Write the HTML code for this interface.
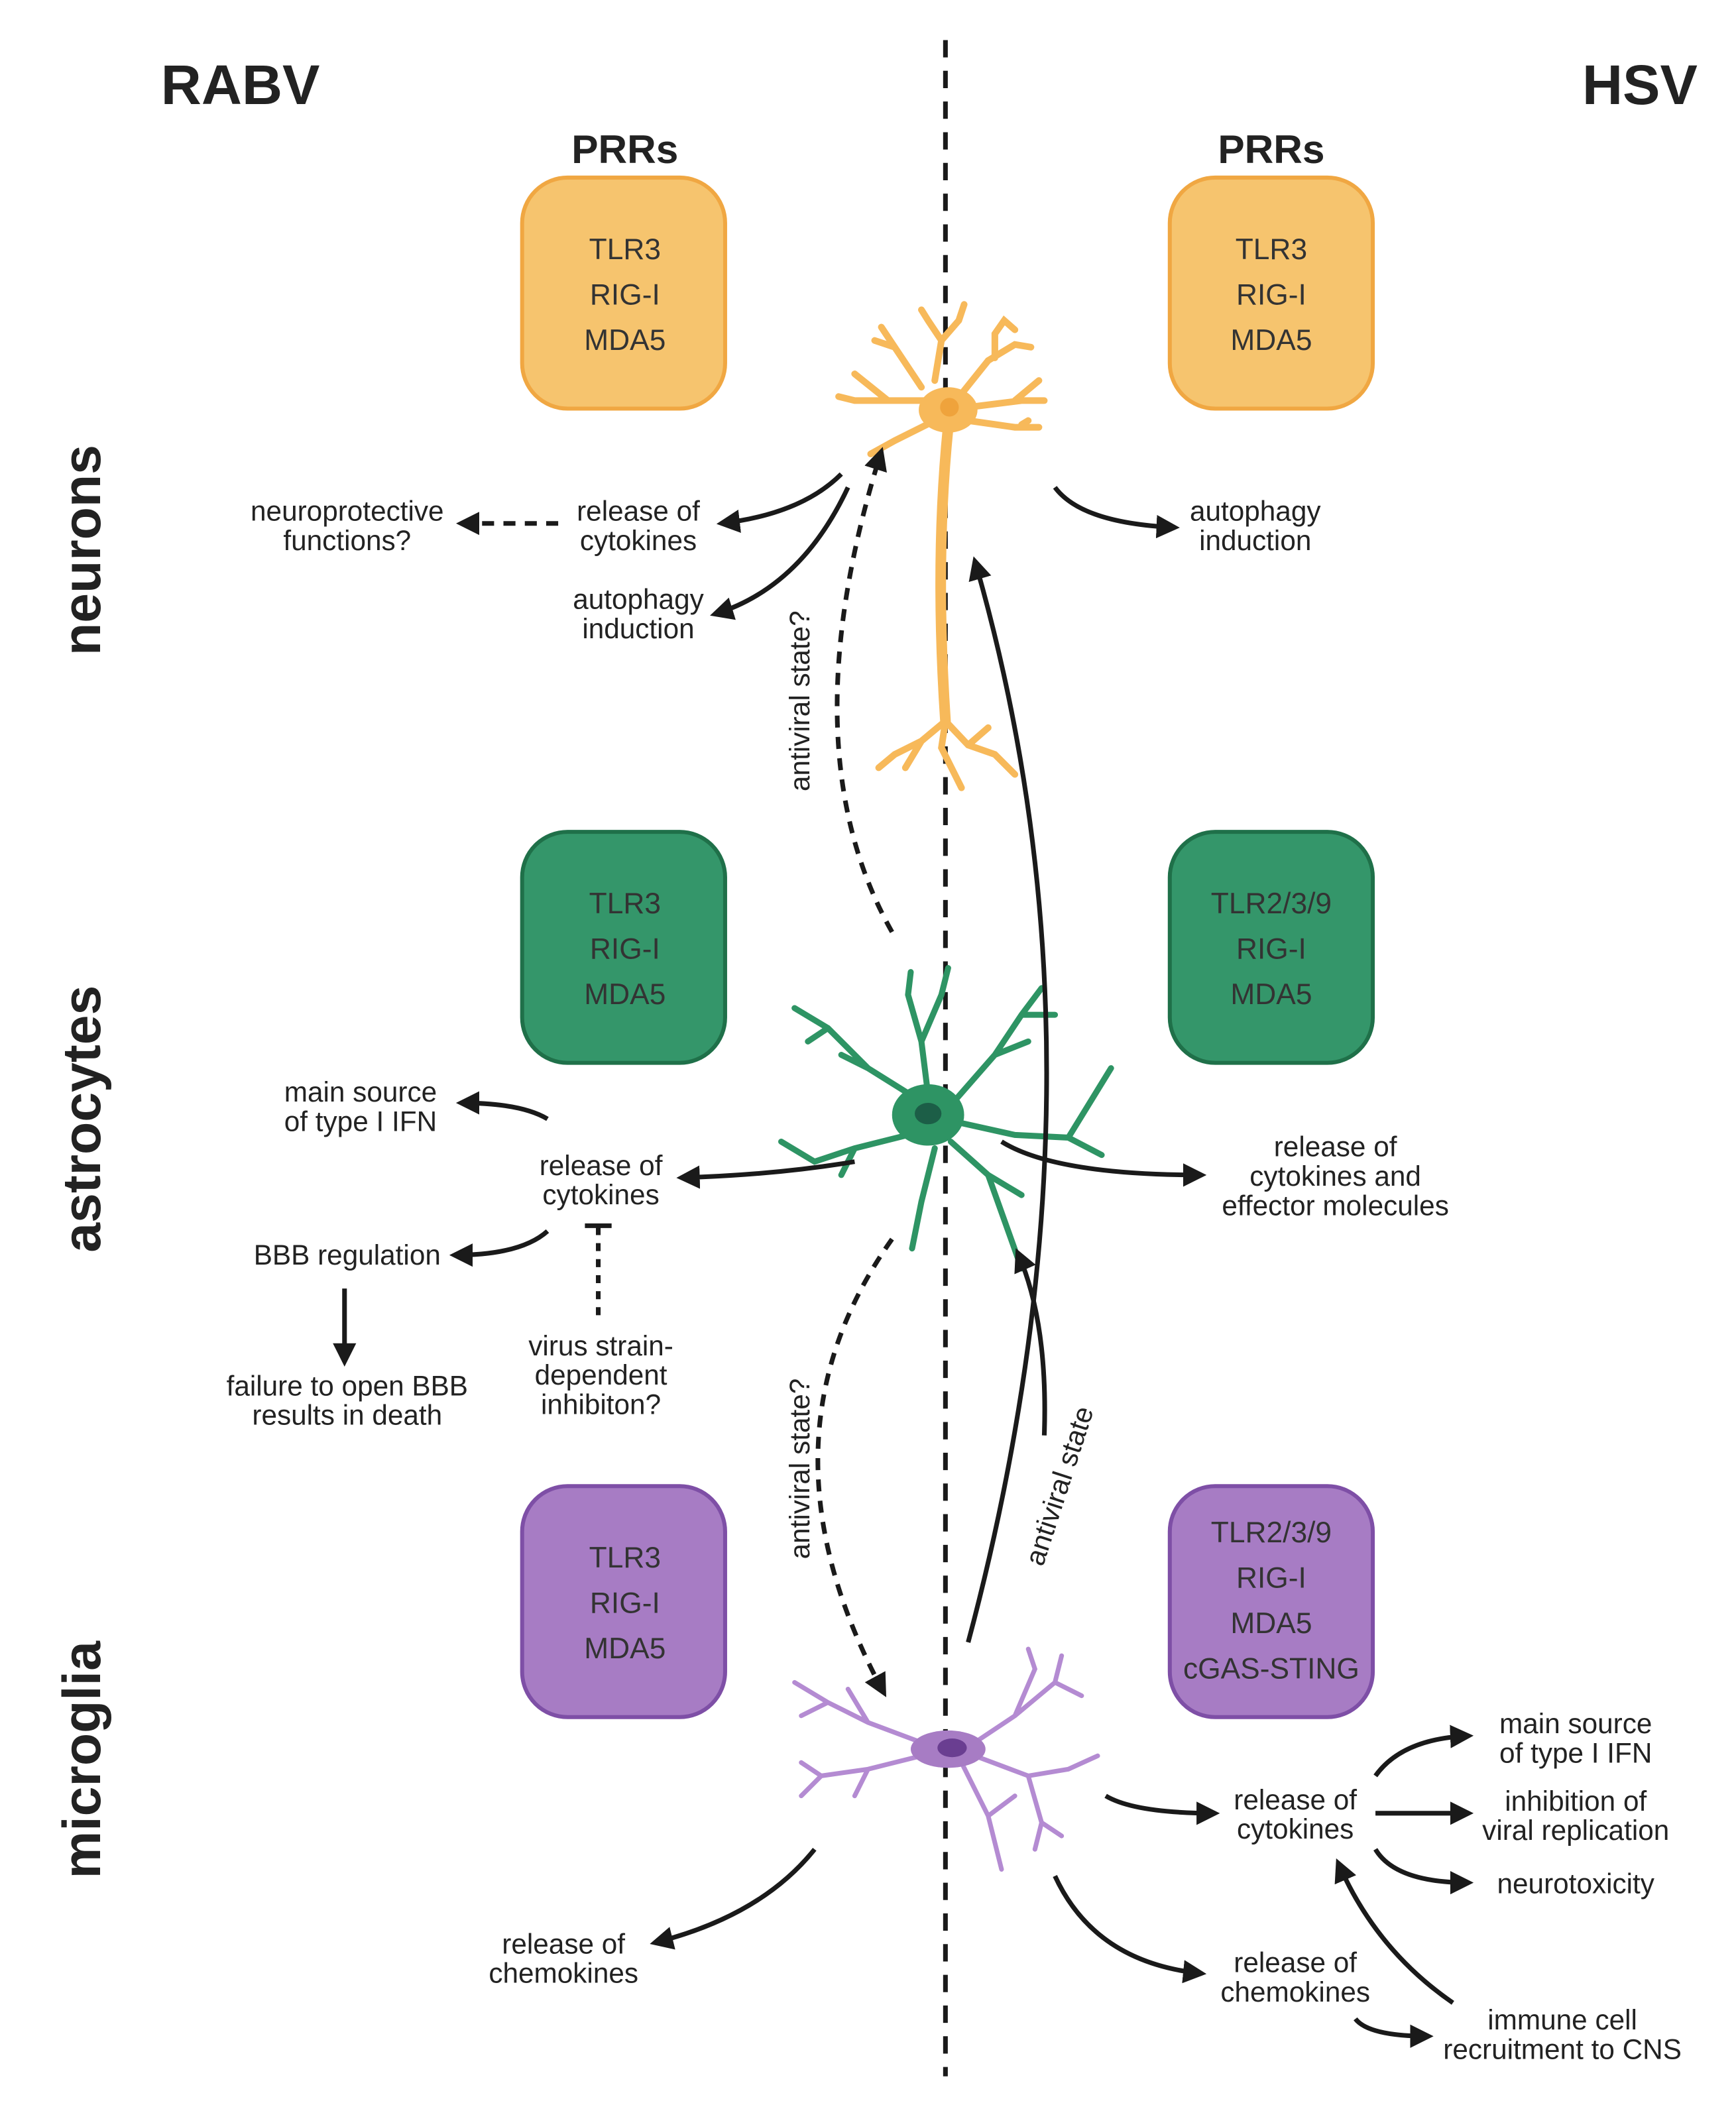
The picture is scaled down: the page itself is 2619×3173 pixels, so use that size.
<!DOCTYPE html>
<html><head><meta charset="utf-8"><style>
html,body{margin:0;padding:0;background:#fff;}
svg{display:block;}
text{font-family:"Liberation Sans",sans-serif;fill:#222;}
.t{font-size:21px;text-anchor:middle;}
.b{font-size:22px;text-anchor:middle;fill:#333;}
</style></head><body>
<svg width="2619" height="3173" viewBox="0 0 1300 1575" preserveAspectRatio="none" xmlns="http://www.w3.org/2000/svg">
<defs>
<marker id="a" viewBox="0 0 10 10" refX="8" refY="5" markerWidth="5" markerHeight="5" orient="auto"><path d="M0,0L10,5L0,10z" fill="#1a1a1a"/></marker>
</defs>
<rect width="1300" height="1575" fill="#fff"/>
<text x="180" y="78" style="font-size:42px;font-weight:bold;text-anchor:middle">RABV</text>
<text x="1228" y="78" style="font-size:42px;font-weight:bold;text-anchor:middle">HSV</text>
<text x="468" y="122" style="font-size:30px;font-weight:bold;text-anchor:middle">PRRs</text>
<text x="952" y="122" style="font-size:30px;font-weight:bold;text-anchor:middle">PRRs</text>
<text transform="translate(75,412) rotate(-90)" style="font-size:40px;font-weight:bold;text-anchor:middle">neurons</text>
<text transform="translate(75,838) rotate(-90)" style="font-size:40px;font-weight:bold;text-anchor:middle">astrocytes</text>
<text transform="translate(75,1318) rotate(-90)" style="font-size:40px;font-weight:bold;text-anchor:middle">microglia</text>

<line x1="708" y1="30" x2="708" y2="1555" stroke="#1a1a1a" stroke-width="3.5" stroke-dasharray="13,10"/>

<g stroke-width="3">
<rect x="391" y="133" width="152" height="173" rx="34" fill="#F6C46E" stroke="#F0A742"/>
<rect x="876" y="133" width="152" height="173" rx="34" fill="#F6C46E" stroke="#F0A742"/>
<rect x="391" y="623" width="152" height="173" rx="34" fill="#34966A" stroke="#1F7049"/>
<rect x="876" y="623" width="152" height="173" rx="34" fill="#34966A" stroke="#1F7049"/>
<rect x="391" y="1113" width="152" height="173" rx="34" fill="#A77CC4" stroke="#7E4FA6"/>
<rect x="876" y="1113" width="152" height="173" rx="34" fill="#A77CC4" stroke="#7E4FA6"/>
</g>
<text class="b" x="468" y="194">TLR3</text><text class="b" x="468" y="228">RIG-I</text><text class="b" x="468" y="262">MDA5</text>
<text class="b" x="952" y="194">TLR3</text><text class="b" x="952" y="228">RIG-I</text><text class="b" x="952" y="262">MDA5</text>
<text class="b" x="468" y="684">TLR3</text><text class="b" x="468" y="718">RIG-I</text><text class="b" x="468" y="752">MDA5</text>
<text class="b" x="952" y="684">TLR2/3/9</text><text class="b" x="952" y="718">RIG-I</text><text class="b" x="952" y="752">MDA5</text>
<text class="b" x="468" y="1174">TLR3</text><text class="b" x="468" y="1208">RIG-I</text><text class="b" x="468" y="1242">MDA5</text>
<text class="b" x="952" y="1155">TLR2/3/9</text><text class="b" x="952" y="1189">RIG-I</text><text class="b" x="952" y="1223">MDA5</text><text class="b" x="952" y="1257">cGAS-STING</text>

<g stroke="#F7B95A" fill="none" stroke-width="5" stroke-linecap="round">
<path d="M710,320 Q700,420 708,540" stroke-width="8"/>
<path d="M700,300 L640,300 L628,297 M665,300 L640,280 M690,290 L670,260 L660,245 M670,260 L655,255 M700,285 L705,255 L718,240 L722,228 M705,255 L695,240 L690,232 M720,295 L740,270 L760,258 L772,260 M745,268 L745,250 L752,240 L760,247 M725,305 L765,300 L782,300 M760,300 L778,285 M725,315 L760,320 L778,320 M765,318 L770,315 M700,315 L670,330 L652,340 M708,540 L690,555 L670,565 L658,575 M690,555 L678,575 M708,540 L725,558 L745,565 L760,580 M725,558 L740,545 M708,540 L705,560 L720,590"/>
</g>
<ellipse cx="710" cy="307" rx="22" ry="17" fill="#F7B95A"/>
<circle cx="711" cy="305" r="7" fill="#EFA33C"/>

<g stroke="#2E9464" fill="none" stroke-width="4.5" stroke-linecap="round">
<path d="M690,825 L650,800 L620,770 L595,755 M620,770 L605,780 M650,800 L630,790 M695,820 L690,780 L680,745 L682,728 M690,780 L705,745 L710,725 M710,830 L745,790 L765,760 L780,740 M765,760 L790,760 M745,790 L770,780 M715,840 L760,850 L800,852 L832,800 M800,852 L825,865 M712,855 L740,880 L765,950 M740,880 L765,895 M700,860 L690,900 L683,935 M680,850 L640,860 L610,870 L585,855 M640,860 L630,880"/>
</g>
<ellipse cx="695" cy="835" rx="27" ry="23" fill="#2E9464"/>
<ellipse cx="695" cy="834" rx="10" ry="8" fill="#1C5E47"/>

<g stroke="#B48BD2" fill="none" stroke-width="3.5" stroke-linecap="round">
<path d="M690,1305 L650,1290 L620,1275 L595,1260 M650,1290 L635,1265 M620,1275 L600,1285 M690,1315 L650,1325 L615,1330 L600,1320 M650,1325 L640,1345 M615,1330 L600,1345 M730,1305 L760,1285 L775,1250 L770,1235 M760,1285 L790,1260 L795,1240 M790,1260 L810,1270 M730,1315 L770,1330 L800,1325 L822,1315 M770,1330 L780,1365 L775,1385 M780,1365 L795,1375 M720,1320 L740,1360 L750,1400 M740,1360 L760,1345"/>
</g>
<ellipse cx="710" cy="1310" rx="28" ry="14" fill="#A77CC4"/>
<ellipse cx="713" cy="1309" rx="11" ry="7" fill="#6A3E91"/>

<g stroke="#1a1a1a" stroke-width="3.5" fill="none">
<path d="M630,355 Q600,385 540,392" marker-end="url(#a)"/>
<path d="M418,392 L345,392" stroke-dasharray="9,7" marker-end="url(#a)"/>
<path d="M635,365 Q600,440 535,460" marker-end="url(#a)"/>
<path d="M790,365 Q810,392 880,395" marker-end="url(#a)"/>
<path d="M668,698 Q590,560 660,338" stroke-dasharray="9,7" marker-end="url(#a)"/>
<path d="M725,1230 Q840,800 730,420" marker-end="url(#a)"/>
<path d="M410,838 Q390,826 345,826" marker-end="url(#a)"/>
<path d="M640,870 Q580,880 510,882" marker-end="url(#a)"/>
<path d="M410,922 Q390,940 340,940" marker-end="url(#a)"/>
<path d="M258,965 L258,1020" marker-end="url(#a)"/>
<path d="M448,985 L448,918" stroke-dasharray="6,6"/>
<path d="M438,918 L458,918"/>
<path d="M750,855 Q790,880 900,880" marker-end="url(#a)"/>
<path d="M668,928 Q560,1080 662,1268" stroke-dasharray="9,7" marker-end="url(#a)"/>
<path d="M782,1075 Q785,990 762,938" marker-end="url(#a)"/>
<path d="M610,1385 Q570,1435 490,1455" marker-end="url(#a)"/>
<path d="M828,1345 Q850,1358 910,1358" marker-end="url(#a)"/>
<path d="M790,1405 Q820,1470 900,1478" marker-end="url(#a)"/>
<path d="M1030,1330 Q1050,1302 1100,1300" marker-end="url(#a)"/>
<path d="M1030,1358 L1100,1358" marker-end="url(#a)"/>
<path d="M1030,1385 Q1045,1410 1100,1410" marker-end="url(#a)"/>
<path d="M1088,1500 Q1030,1460 1002,1395" marker-end="url(#a)"/>
<path d="M1015,1512 Q1025,1525 1070,1525" marker-end="url(#a)"/>
</g>

<text transform="translate(606,525) rotate(-90)" class="t">antiviral state?</text>
<text transform="translate(606,1100) rotate(-90)" class="t">antiviral state?</text>
<text transform="translate(800,1115) rotate(-72)" class="t">antiviral state</text>

<text class="t" x="260" y="390">neuroprotective</text><text class="t" x="260" y="412">functions?</text>
<text class="t" x="478" y="390">release of</text><text class="t" x="478" y="412">cytokines</text>
<text class="t" x="478" y="456">autophagy</text><text class="t" x="478" y="478">induction</text>
<text class="t" x="940" y="390">autophagy</text><text class="t" x="940" y="412">induction</text>
<text class="t" x="270" y="825">main source</text><text class="t" x="270" y="847">of type I IFN</text>
<text class="t" x="450" y="880">release of</text><text class="t" x="450" y="902">cytokines</text>
<text class="t" x="260" y="947">BBB regulation</text>
<text class="t" x="260" y="1045">failure to open BBB</text><text class="t" x="260" y="1067">results in death</text>
<text class="t" x="450" y="1015">virus strain-</text><text class="t" x="450" y="1037">dependent</text><text class="t" x="450" y="1059">inhibiton?</text>
<text class="t" x="1000" y="866">release of</text><text class="t" x="1000" y="888">cytokines and</text><text class="t" x="1000" y="910">effector molecules</text>
<text class="t" x="970" y="1355">release of</text><text class="t" x="970" y="1377">cytokines</text>
<text class="t" x="1180" y="1298">main source</text><text class="t" x="1180" y="1320">of type I IFN</text>
<text class="t" x="1180" y="1356">inhibition of</text><text class="t" x="1180" y="1378">viral replication</text>
<text class="t" x="1180" y="1418">neurotoxicity</text>
<text class="t" x="422" y="1463">release of</text><text class="t" x="422" y="1485">chemokines</text>
<text class="t" x="970" y="1477">release of</text><text class="t" x="970" y="1499">chemokines</text>
<text class="t" x="1170" y="1520">immune cell</text><text class="t" x="1170" y="1542">recruitment to CNS</text>
</svg>
</body></html>
